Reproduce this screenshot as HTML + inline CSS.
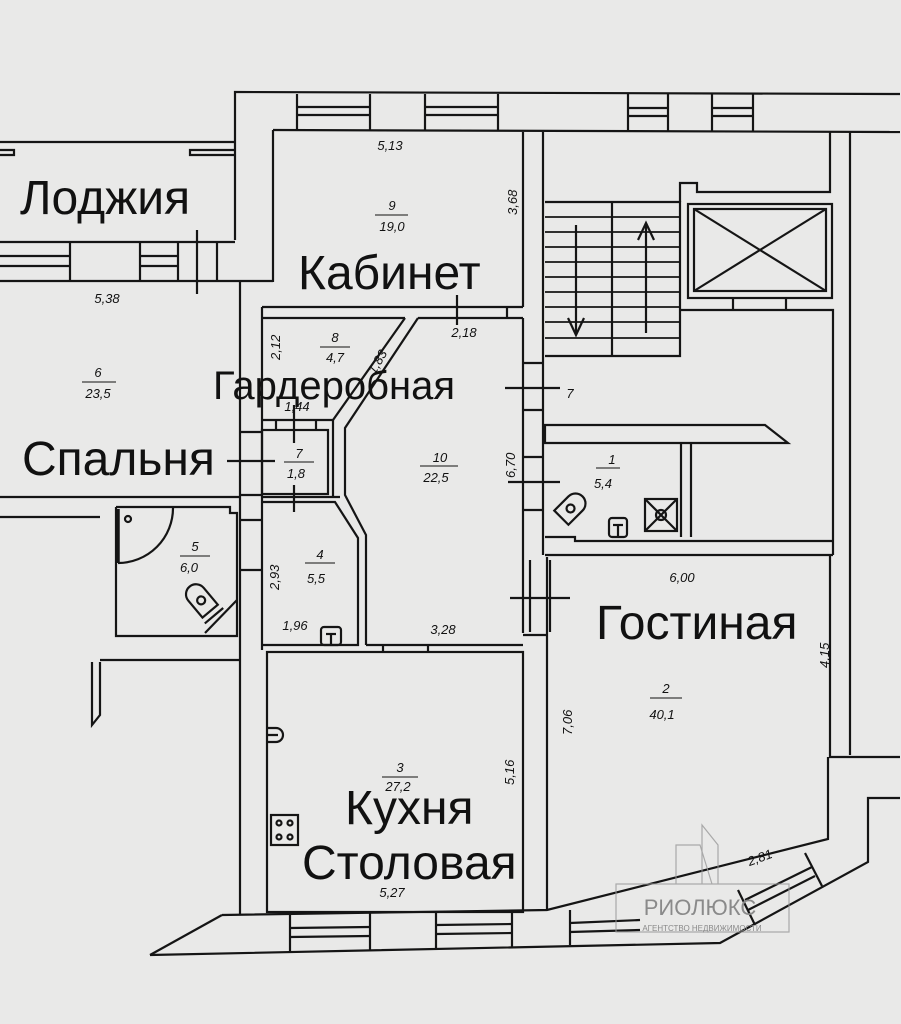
<!DOCTYPE html>
<html><head><meta charset="utf-8"><style>
html,body{margin:0;padding:0;background:#e8e8e8;}
svg{display:block}
text{font-family:"Liberation Sans","DejaVu Sans",sans-serif;fill:#111}
.n{font-size:13px;font-style:italic}
.b{font-size:48px}
</style></head><body>
<svg width="901" height="1024" viewBox="0 0 901 1024" xmlns="http://www.w3.org/2000/svg">
<rect width="901" height="1024" fill="#e9e9e8"/>
<g stroke="#151515" stroke-width="2.2" fill="none">
<polyline points="235,240 235,92 900,94"/>
<line x1="273" y1="130" x2="900" y2="132"/>
<line x1="273" y1="130" x2="273" y2="282"/>
<line x1="297" y1="94" x2="297" y2="130"/><line x1="370" y1="94" x2="370" y2="130"/>
<line x1="297" y1="107" x2="370" y2="107"/><line x1="297" y1="115" x2="370" y2="115"/>
<line x1="425" y1="94" x2="425" y2="130"/><line x1="498" y1="94" x2="498" y2="130"/>
<line x1="425" y1="107" x2="498" y2="107"/><line x1="425" y1="115" x2="498" y2="115"/>
<line x1="628" y1="94" x2="628" y2="131"/><line x1="668" y1="94" x2="668" y2="131"/>
<line x1="628" y1="108" x2="668" y2="108"/><line x1="628" y1="116" x2="668" y2="116"/>
<line x1="712" y1="94" x2="712" y2="131"/><line x1="753" y1="94" x2="753" y2="131"/>
<line x1="712" y1="108" x2="753" y2="108"/><line x1="712" y1="116" x2="753" y2="116"/>
<line x1="0" y1="142" x2="235" y2="142"/>
<polyline points="0,155 14,155 14,150 0,150"/>
<polyline points="235,150 190,150 190,155 235,155"/>
<line x1="0" y1="242" x2="235" y2="242"/>
<line x1="0" y1="281" x2="273" y2="281"/>
<line x1="70" y1="242" x2="70" y2="281"/><line x1="140" y1="242" x2="140" y2="281"/>
<line x1="0" y1="256" x2="70" y2="256"/><line x1="0" y1="266" x2="70" y2="266"/>
<line x1="140" y1="256" x2="178" y2="256"/><line x1="140" y1="266" x2="178" y2="266"/>
<line x1="178" y1="242" x2="178" y2="281"/><line x1="217" y1="242" x2="217" y2="281"/>
<line x1="197" y1="230" x2="197" y2="294"/>
<line x1="523" y1="132" x2="523" y2="307"/>
<line x1="543" y1="132" x2="543" y2="555"/>
<line x1="262" y1="307" x2="523" y2="307"/>
<line x1="262" y1="318" x2="405" y2="318"/>
<line x1="418" y1="318" x2="523" y2="318"/>
<line x1="507" y1="307" x2="507" y2="318"/>
<line x1="457" y1="295" x2="457" y2="325"/>
<line x1="240" y1="281" x2="240" y2="915"/>
<line x1="262" y1="307" x2="262" y2="650"/>
<line x1="240" y1="432" x2="262" y2="432"/><line x1="240" y1="495" x2="262" y2="495"/>
<line x1="227" y1="461" x2="275" y2="461"/>
<polyline points="405,318 333,420 262,420"/>
<polyline points="418,318 345,428 345,495 366,535 366,645"/>
<rect x="262" y="430" width="66" height="64"/>
<line x1="333" y1="420" x2="333" y2="497"/>
<line x1="294" y1="405" x2="294" y2="443"/>
<line x1="294" y1="485" x2="294" y2="512"/>
<line x1="262" y1="497" x2="340" y2="497"/>
<line x1="276" y1="420" x2="276" y2="430"/><line x1="316" y1="420" x2="316" y2="430"/>
<polyline points="262,502 335,502 358,538 358,645 262,645"/>
<line x1="366" y1="645" x2="523" y2="645"/>
<line x1="523" y1="318" x2="523" y2="633"/>
<line x1="0" y1="497" x2="240" y2="497"/>
<line x1="0" y1="517" x2="100" y2="517"/>
<polyline points="116,507 230,507 230,513 237,513 237,636 116,636 116,507"/>
<line x1="118" y1="509" x2="118" y2="563" stroke-width="3.5"/>
<path d="M118,563 A55,55 0 0 0 173,508"/>
<circle cx="128" cy="519" r="3"/>
<g transform="translate(205,605) rotate(-40)"><path d="M-10,-14 L-10,8 L10,8 L10,-14 A10,10 0 0 0 -10,-14 Z"/><circle cx="0" cy="-6" r="4"/><line x1="-12" y1="14" x2="12" y2="14"/></g>
<line x1="237" y1="600" x2="205" y2="633"/>
<line x1="100" y1="660" x2="240" y2="660"/>
<polyline points="100,662 100,715 92,725 92,662"/>
<line x1="240" y1="520" x2="262" y2="520"/><line x1="240" y1="570" x2="262" y2="570"/>
<rect x="267" y="652" width="256" height="260"/>
<line x1="383" y1="645" x2="383" y2="652"/><line x1="428" y1="645" x2="428" y2="652"/>
<path d="M268,728 h8 a6,6 0 0 1 0,14 h-8 M268,735 h10"/>
<rect x="271" y="815" width="27" height="30"/>
<circle cx="279" cy="823" r="2.5"/><circle cx="290" cy="823" r="2.5"/><circle cx="279" cy="837" r="2.5"/><circle cx="290" cy="837" r="2.5"/>
<rect x="321" y="627" width="20" height="18" rx="3"/><line x1="326" y1="634" x2="336" y2="634"/><line x1="331" y1="634" x2="331" y2="645"/>
<line x1="547" y1="557" x2="547" y2="910"/>
<line x1="523" y1="635" x2="547" y2="635"/>
<line x1="530" y1="560" x2="530" y2="632"/><line x1="550" y1="560" x2="550" y2="632"/>
<line x1="510" y1="598" x2="570" y2="598"/>
<line x1="523" y1="363" x2="543" y2="363"/><line x1="523" y1="410" x2="543" y2="410"/>
<line x1="505" y1="388" x2="560" y2="388"/>
<line x1="523" y1="457" x2="543" y2="457"/><line x1="523" y1="510" x2="543" y2="510"/>
<line x1="508" y1="482" x2="560" y2="482"/>
<polyline points="545,202 680,202 680,356 545,356"/>
<line x1="612" y1="202" x2="612" y2="356"/>
<g stroke-width="1.8">
<line x1="545" y1="217" x2="680" y2="217"/><line x1="545" y1="232" x2="680" y2="232"/><line x1="545" y1="247" x2="680" y2="247"/>
<line x1="545" y1="262" x2="680" y2="262"/><line x1="545" y1="277" x2="680" y2="277"/><line x1="545" y1="292" x2="680" y2="292"/>
<line x1="545" y1="307" x2="680" y2="307"/><line x1="545" y1="322" x2="680" y2="322"/><line x1="545" y1="338" x2="680" y2="338"/>
</g>
<line x1="576" y1="225" x2="576" y2="335"/><polyline points="568,318 576,335 584,318"/>
<line x1="646" y1="333" x2="646" y2="223"/><polyline points="638,240 646,223 654,240"/>
<polyline points="680,202 680,183 697,183 697,192 830,192 830,132"/>
<line x1="850" y1="132" x2="850" y2="755"/>
<rect x="688" y="204" width="144" height="94"/>
<rect x="694" y="209" width="132" height="82"/>
<line x1="694" y1="209" x2="826" y2="291"/><line x1="826" y1="209" x2="694" y2="291"/>
<polyline points="680,310 833,310 833,555"/>
<line x1="733" y1="298" x2="733" y2="310"/><line x1="786" y1="298" x2="786" y2="310"/>
<polygon points="545,425 765,425 788,443 545,443"/>
<line x1="681" y1="443" x2="681" y2="537"/><line x1="691" y1="443" x2="691" y2="537"/>
<polyline points="545,537 575,537 575,541 833,541"/>
<line x1="545" y1="555" x2="833" y2="555"/>
<rect x="645" y="499" width="32" height="32"/>
<line x1="645" y1="499" x2="677" y2="531"/><line x1="677" y1="499" x2="645" y2="531"/><circle cx="661" cy="515" r="5"/>
<rect x="609" y="518" width="18" height="19" rx="3"/><line x1="613" y1="525" x2="623" y2="525"/><line x1="618" y1="525" x2="618" y2="537"/>
<g transform="translate(567,512) rotate(45)"><path d="M-10,-12 L-10,8 L10,8 L10,-12 A10,10 0 0 0 -10,-12 Z"/><circle cx="0" cy="-5" r="4"/></g>
<polyline points="830,555 830,757 900,757"/>
<polyline points="222,915 547,910 828,839 828,757"/>
<polyline points="150,955 720,943 868,862 868,798 900,798"/>
<line x1="222" y1="915" x2="150" y2="955"/>
<line x1="290" y1="914" x2="290" y2="952"/><line x1="370" y1="913" x2="370" y2="951"/>
<line x1="290" y1="928" x2="370" y2="927"/><line x1="290" y1="937" x2="370" y2="936"/>
<line x1="436" y1="912" x2="436" y2="949"/><line x1="512" y1="911" x2="512" y2="948"/>
<line x1="436" y1="925" x2="512" y2="924"/><line x1="436" y1="934" x2="512" y2="933"/>
<line x1="570" y1="910" x2="570" y2="945"/><line x1="570" y1="923" x2="640" y2="920"/><line x1="570" y1="932" x2="640" y2="930"/>
<line x1="738" y1="890" x2="755" y2="925"/><line x1="805" y1="853" x2="822" y2="886"/>
<line x1="745" y1="900" x2="812" y2="867"/><line x1="748" y1="910" x2="815" y2="876"/>
</g>
<g stroke="#9a9a9a" stroke-width="1.2" fill="none" opacity="0.8">
<rect x="616" y="884" width="173" height="48"/>
<polyline points="676,884 676,845 700,845 712,884"/>
<polyline points="702,884 702,825 718,845 718,884"/>
</g>
<text x="700" y="915" font-size="22" text-anchor="middle" style="fill:#8a8a8a">РИОЛЮКС</text>
<text x="702" y="931" font-size="8" text-anchor="middle" style="fill:#8a8a8a">АГЕНТСТВО НЕДВИЖИМОСТИ</text>
<text class="b" x="20" y="214">Лоджия</text>
<text class="b" x="298" y="289">Кабинет</text>
<text x="213" y="399" font-size="40">Гардеробная</text>
<text class="b" x="22" y="475">Спальня</text>
<text class="b" x="596" y="639">Гостиная</text>
<text class="b" x="345" y="824">Кухня</text>
<text class="b" x="302" y="879">Столовая</text>
<g class="n" text-anchor="middle">
<text class="n" x="390" y="150">5,13</text>
<text class="n" x="392" y="210">9</text><line x1="375" y1="215" x2="408" y2="215" stroke="#111"/><text class="n" x="392" y="231">19,0</text>
<text class="n" x="107" y="303">5,38</text>
<text class="n" x="98" y="377">6</text><line x1="82" y1="382" x2="116" y2="382" stroke="#111"/><text class="n" x="98" y="398">23,5</text>
<text class="n" x="335" y="342">8</text><line x1="320" y1="347" x2="350" y2="347" stroke="#111"/><text class="n" x="335" y="362">4,7</text>
<text class="n" x="464" y="337">2,18</text>
<text class="n" x="297" y="411">1,44</text>
<text class="n" x="299" y="458">7</text><line x1="284" y1="462" x2="314" y2="462" stroke="#111"/><text class="n" x="296" y="478">1,8</text>
<text class="n" x="440" y="462">10</text><line x1="420" y1="466" x2="458" y2="466" stroke="#111"/><text class="n" x="436" y="482">22,5</text>
<text class="n" x="570" y="398">7</text>
<text class="n" x="612" y="464">1</text><line x1="596" y1="468" x2="620" y2="468" stroke="#111"/><text class="n" x="603" y="488">5,4</text>
<text class="n" x="195" y="551">5</text><line x1="180" y1="556" x2="210" y2="556" stroke="#111"/><text class="n" x="189" y="572">6,0</text>
<text class="n" x="320" y="559">4</text><line x1="305" y1="563" x2="335" y2="563" stroke="#111"/><text class="n" x="316" y="583">5,5</text>
<text class="n" x="295" y="630">1,96</text>
<text class="n" x="443" y="634">3,28</text>
<text class="n" x="682" y="582">6,00</text>
<text class="n" x="666" y="693">2</text><line x1="650" y1="698" x2="682" y2="698" stroke="#111"/><text class="n" x="662" y="719">40,1</text>
<text class="n" x="400" y="772">3</text><line x1="382" y1="777" x2="418" y2="777" stroke="#111"/><text class="n" x="398" y="791">27,2</text>
<text class="n" x="392" y="897">5,27</text>
<text class="n" x="760" y="862" transform="rotate(-20 760 858)">2,81</text>
</g>
<g class="n">
<text class="n" x="0" y="0" transform="translate(517,215) rotate(-90)">3,68</text>
<text class="n" x="0" y="0" transform="translate(280,360) rotate(-90)">2,12</text>
<text class="n" x="0" y="0" transform="translate(375,375) rotate(-60)">1,83</text>
<text class="n" x="0" y="0" transform="translate(515,478) rotate(-90)">6,70</text>
<text class="n" x="0" y="0" transform="translate(279,590) rotate(-90)">2,93</text>
<text class="n" x="0" y="0" transform="translate(572,735) rotate(-90)">7,06</text>
<text class="n" x="0" y="0" transform="translate(514,785) rotate(-90)">5,16</text>
<text class="n" x="0" y="0" transform="translate(829,668) rotate(-90)">4,15</text>
</g>
</svg>
</body></html>
